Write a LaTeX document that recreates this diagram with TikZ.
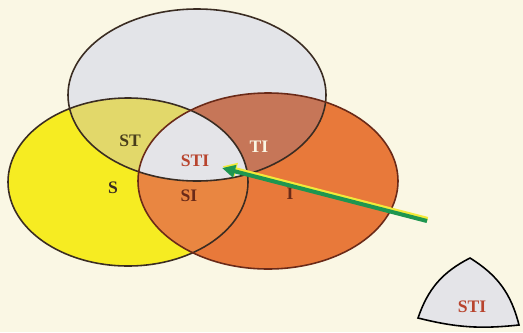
\documentclass[tikz,border=0pt]{standalone}
\usepackage{fontspec}
\setmainfont{Liberation Serif}
\usepackage{tikz}
\usetikzlibrary{arrows.meta}
\definecolor{paper}{HTML}{FAF7E4}
\definecolor{greyT}{HTML}{E3E4E8}
\definecolor{yellowS}{HTML}{F6EC22}
\definecolor{orangeI}{HTML}{E8793A}
\definecolor{oliveST}{HTML}{E2D86A}
\definecolor{brownTI}{HTML}{C67658}
\definecolor{orangeSI}{HTML}{E98641}
\definecolor{greySTI}{HTML}{E4E4E8}
\definecolor{rimdark}{HTML}{3A2C22}
\definecolor{rimred}{HTML}{6A2A18}
\definecolor{arrowgreen}{HTML}{1E9650}
\definecolor{arrowyellow}{HTML}{F2EA3A}
\definecolor{redlabel}{HTML}{B8442E}
\tikzset{
  setlabel/.style={font=\bfseries\fontsize{10}{12}\selectfont},
  rim/.style={line width=0.9pt,draw=rimdark}
}
\def\setT{(197,95) ellipse [x radius=129,y radius=86]}
\def\setS{(128,182) ellipse [x radius=120,y radius=84]}
\def\setI{(268,181) ellipse [x radius=130,y radius=88]}

\begin{document}
\begin{tikzpicture}[x=0.02cm,y=-0.02cm]
\useasboundingbox (0,0) rectangle (523,332);
\fill[paper] (0,0) rectangle (523,332);
\fill[greyT] \setT;
\fill[yellowS] \setS;
\fill[orangeI] \setI;
\begin{scope}
  \clip \setS;
  \fill[oliveST] \setT;
  \fill[orangeSI] \setI;
\end{scope}
\begin{scope}
  \clip \setT;
  \fill[brownTI] \setI;
  \clip \setS;
  \fill[greySTI] \setI;
\end{scope}
\draw[rim] \setT;
\draw[rim] \setS;
\draw[rim,draw=rimred] \setI;
\node[setlabel,text=rimdark!80!olive] (st) at (130,141) {ST};
\node[setlabel,text=redlabel] (sti) at (195,161) {STI};
\node[setlabel,text=paper] (ti) at (259,147) {TI};
\node[setlabel,text=rimdark] (s) at (113,188) {S};
\node[setlabel,text=rimred] (si) at (189,196) {SI};
\node[setlabel,text=rimred] (i) at (290,194) {I};
\coordinate (top) at (470,258);
\coordinate (left) at (418,318);
\coordinate (right) at (519,325);
\draw[line width=0.9pt,fill=greySTI] (top) to[bend right=22] (left)
  to[bend right=10] (right) to[bend right=22] (top) -- cycle;
\node[setlabel,text=redlabel] (small) at (472,307) {STI};
\coordinate (tail) at (427,221);
\coordinate (tip) at (222,168);
\draw[arrowyellow,line width=2.6pt,-{Triangle[length=8pt,width=7.5pt]}]
  ([shift={(0.6,-1.8)}]tail) -- ([shift={(0.6,-1.8)}]tip);
\draw[arrowgreen,line width=2.3pt,-{Triangle[length=7.5pt,width=7pt]}]
  (tail) -- (tip);
\end{tikzpicture}
\end{document}
